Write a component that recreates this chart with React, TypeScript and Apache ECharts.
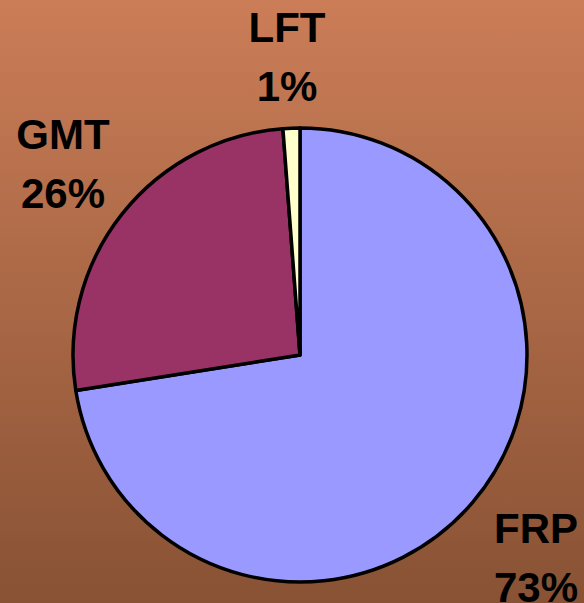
import React, { useEffect, useRef } from "react";
import * as echarts from "echarts";

const categories = ["FRP", "GMT", "LFT"];
const values = [72.5, 26.3, 1.2];
const colors = ["#9999FF", "#993366", "#FFFFCC"];
const labelPos: Record<string, [number, number]> = {
  FRP: [536, 558],
  GMT: [63, 164],
  LFT: [287, 57],
};

export default function App() {
  const ref = useRef<HTMLDivElement>(null);
  useEffect(() => {
    if (!ref.current) return;
    const chart = echarts.init(ref.current, null, { renderer: "svg" });
    chart.setOption({
      animation: false,
      backgroundColor: new echarts.graphic.LinearGradient(0, 0, 0, 1, [
        { offset: 0, color: "#CB7D57" },
        { offset: 1, color: "#885234" },
      ]),
      series: [
        {
          type: "pie",
          center: [300, 355],
          radius: 227,
          startAngle: 90,
          clockwise: true,
          percentPrecision: 0,
          silent: true,
          emphasis: { disabled: true },
          itemStyle: { borderColor: "#000", borderWidth: 3.5 },
          label: {
            show: true,
            position: "outside",
            alignTo: "none",
            overflow: "none",
            width: 200,
            formatter: "{b}\n{d}%",
            fontFamily: "'Liberation Sans', Arial, sans-serif",
            fontWeight: "bold",
            fontSize: 42,
            lineHeight: 59,
            color: "#000",
          },
          labelLine: { show: false },
          labelLayout: (p: any) => {
            const pos = labelPos[categories[p.dataIndex]];
            return { x: pos[0], y: pos[1], align: "center", verticalAlign: "middle" };
          },
          data: categories.map((c, i) => ({
            name: c,
            value: values[i],
            itemStyle: { color: colors[i] },
          })),
        },
      ],
    });
    return () => chart.dispose();
  }, []);
  return (
    <div
      ref={ref}
      style={{ position: "absolute", left: 0, top: 0, width: 584, height: 603 }}
    />
  );
}
